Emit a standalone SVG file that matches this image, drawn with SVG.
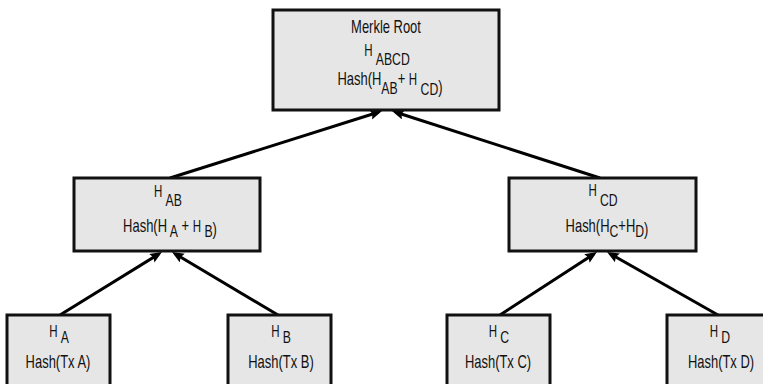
<svg xmlns="http://www.w3.org/2000/svg" width="763" height="384" viewBox="0 0 763 384">
<style>
.box{fill:#e6e6e6;stroke:#111;stroke-width:3}
.lbl{font-family:"Liberation Sans",Arial,sans-serif;font-size:18px;fill:#111;text-anchor:middle}
.sm{font-size:16px}
.sub{font-size:17px}
.edge{stroke:#000;stroke-width:3;fill:none;marker-end:url(#arr)}
</style>
<defs>
<marker id="arr" markerUnits="userSpaceOnUse" markerWidth="13" markerHeight="11" refX="8" refY="5" orient="auto">
<path d="M0,0 L12,5 L0,10 L2,5 z" fill="#000"/>
</marker>
</defs>
<rect width="763" height="384" fill="#fff"/>
<g id="connectors">
<line class="edge" x1="170" y1="178" x2="378.2" y2="112.2"/>
<line class="edge" x1="600" y1="178" x2="395.8" y2="112.2"/>
<line class="edge" x1="60" y1="315" x2="158.6" y2="254.1"/>
<line class="edge" x1="278" y1="315" x2="175.4" y2="254.0"/>
<line class="edge" x1="500" y1="315" x2="593.6" y2="254.2"/>
<line class="edge" x1="718" y1="315" x2="610.5" y2="254.0"/>
</g>
<g id="root">
<rect class="box" x="273" y="10" width="226" height="100"/>
<text class="lbl" transform="translate(386,33) scale(0.72,1)">Merkle Root</text>
<text class="lbl" transform="translate(387,56) scale(0.72,1)"><tspan class="sm">H </tspan><tspan class="sub" dy="9">ABCD</tspan></text>
<text class="lbl" transform="translate(390,85) scale(0.72,1)">Hash(H<tspan class="sub" dy="9">AB</tspan><tspan dy="-9">+ </tspan><tspan class="sm">H</tspan><tspan class="sub" dy="10"> CD</tspan><tspan dy="-2">)</tspan></text>
</g>
<g id="hab">
<rect class="box" x="74" y="178" width="186" height="73"/>
<text class="lbl" transform="translate(168,197) scale(0.72,1)"><tspan class="sm">H </tspan><tspan class="sub" dy="9">AB</tspan></text>
<text class="lbl" transform="translate(170,232) scale(0.72,1)">Hash(H<tspan class="sub" dy="5"> A</tspan><tspan dy="-5"> + </tspan><tspan class="sm">H</tspan><tspan class="sub" dy="5"> B</tspan><tspan dy="-2">)</tspan></text>
</g>
<g id="hcd">
<rect class="box" x="509" y="178" width="187" height="73"/>
<text class="lbl" transform="translate(603,196) scale(0.72,1)"><tspan class="sm">H </tspan><tspan class="sub" dy="10">CD</tspan></text>
<text class="lbl" transform="translate(607,232) scale(0.72,1)">Hash(H<tspan class="sub" dy="5">C</tspan><tspan dy="-5">+H</tspan><tspan class="sub" dy="5">D</tspan><tspan dy="-2">)</tspan></text>
</g>
<g id="ha">
<rect class="box" x="7" y="315" width="103" height="85"/>
<text class="lbl" transform="translate(59,337) scale(0.72,1)"><tspan class="sm">H </tspan><tspan class="sub" dy="6">A</tspan></text>
<text class="lbl" transform="translate(58,368) scale(0.72,1)">Hash(Tx A)</text>
</g>
<g id="hb">
<rect class="box" x="228" y="315" width="103" height="85"/>
<text class="lbl" transform="translate(281,337) scale(0.72,1)"><tspan class="sm">H </tspan><tspan class="sub" dy="6">B</tspan></text>
<text class="lbl" transform="translate(281,368) scale(0.72,1)">Hash(Tx B)</text>
</g>
<g id="hc">
<rect class="box" x="447" y="315" width="103" height="85"/>
<text class="lbl" transform="translate(499,337) scale(0.72,1)"><tspan class="sm">H </tspan><tspan class="sub" dy="6">C</tspan></text>
<text class="lbl" transform="translate(498,368) scale(0.72,1)">Hash(Tx C)</text>
</g>
<g id="hd">
<rect class="box" x="667" y="315" width="103" height="85"/>
<text class="lbl" transform="translate(720,337) scale(0.72,1)"><tspan class="sm">H </tspan><tspan class="sub" dy="6">D</tspan></text>
<text class="lbl" transform="translate(721,368) scale(0.72,1)">Hash(Tx D)</text>
</g>
</svg>
